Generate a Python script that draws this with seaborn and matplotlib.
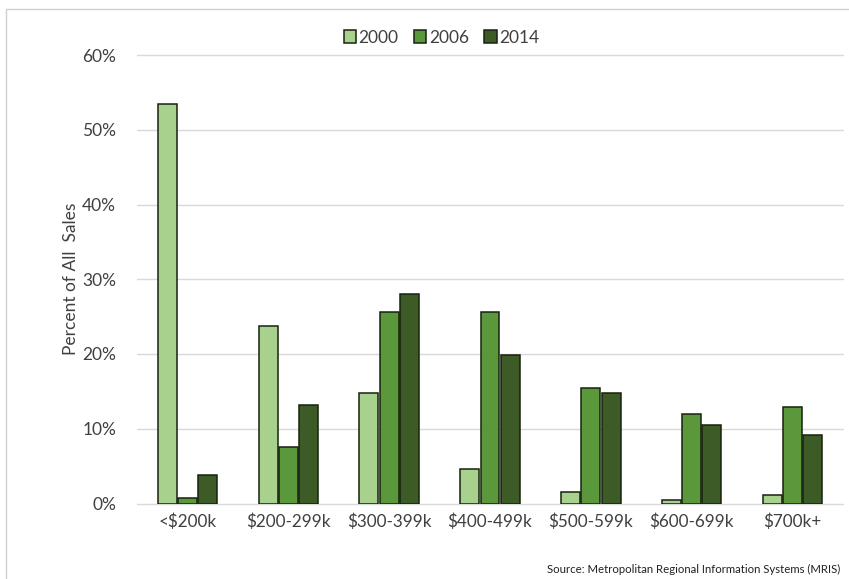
import matplotlib
matplotlib.use("Agg")
import matplotlib.pyplot as plt
from matplotlib.patches import Rectangle
from matplotlib.ticker import FuncFormatter
import pandas as pd
import seaborn as sns

# Share of all home sales by price band
price_bands = ["<$200k", "$200-299k", "$300-399k", "$400-499k",
               "$500-599k", "$600-699k", "$700k+"]
years = ["2000", "2006", "2014"]
share_2000 = [53.5, 23.7, 14.8, 4.6, 1.6, 0.5, 1.2]
share_2006 = [0.7, 7.5, 25.6, 25.6, 15.5, 12.0, 12.9]
share_2014 = [3.8, 13.2, 28.0, 19.9, 14.8, 10.5, 9.2]
y_ticks = [0, 10, 20, 30, 40, 50, 60]
source_note = "Source: Metropolitan Regional Information Systems (MRIS)"

df = pd.DataFrame({
    "band": price_bands * 3,
    "year": [y for y in years for _ in price_bands],
    "share": share_2000 + share_2006 + share_2014,
})

sns.set_theme(style="white")
plt.rcParams["font.family"] = ["Lato", "DejaVu Sans"]
text_color = "#404040"
palette = {"2000": "#a9d18e", "2006": "#5b983b", "2014": "#3c5b27"}

fig = plt.figure(figsize=(8.49, 5.79), dpi=100)
ax = fig.add_axes([137 / 849, 1 - 503.5 / 579, (843 - 137) / 849, (503.5 - 55) / 579])

sns.barplot(data=df, x="band", y="share", hue="year", order=price_bands,
            hue_order=years, palette=palette, width=0.6, gap=0.06,
            edgecolor="#18220f", linewidth=1.1, saturation=1, ax=ax,
            legend=True, zorder=3)

ax.set_ylim(0, 60)
ax.set_xlim(-0.5, len(price_bands) - 0.5)
ax.set_yticks(y_ticks)
ax.yaxis.set_major_formatter(FuncFormatter(lambda v, _: f"{v:.0f}%"))
ax.grid(axis="y", color="#d9d9d9", linewidth=1.0, zorder=0)
ax.grid(axis="x", visible=False)
for gl in ax.get_ygridlines():
    gl.set_clip_on(False)
for side in ["top", "right", "left", "bottom"]:
    ax.spines[side].set_visible(False)
ax.tick_params(axis="y", length=0, labelsize=12.5, colors=text_color, pad=15)
ax.tick_params(axis="x", length=0, labelsize=12.3, colors=text_color, pad=7)
ax.set_xlabel("")
ax.set_ylabel("Percent of All  Sales", fontsize=12.5, color=text_color, labelpad=2)

handles, labels = ax.get_legend_handles_labels()
ax.legend_.remove()
fig.legend(handles, labels, loc="center", bbox_to_anchor=(0.52, 0.935),
           ncol=3, frameon=False, fontsize=12.5, handlelength=0.7,
           handleheight=0.7, handletextpad=0.15, columnspacing=0.9,
           labelcolor=text_color)

# Chart frame (left and top edges)
fig.patches.append(Rectangle((6 / 849, -0.1), 1.2, 1 - 9 / 579 + 0.1,
                             transform=fig.transFigure, fill=False,
                             edgecolor="#d0d0d0", linewidth=1.0))

fig.text(840 / 849, 1 - 569 / 579, source_note, ha="right", va="center",
         fontsize=8.2, color="#222222")

fig.savefig("out.png", dpi=100)
